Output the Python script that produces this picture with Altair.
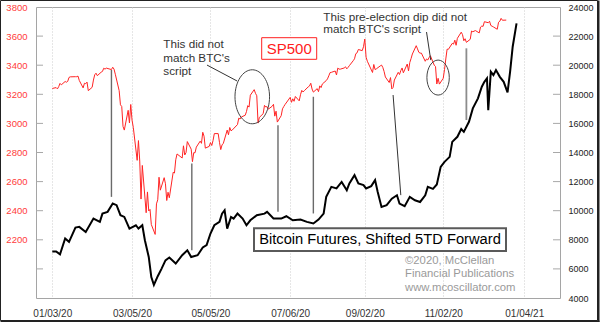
import altair as alt
import pandas as pd

# ---------------- data ----------------
sp_dates = [
    "2020-01-03","2020-01-06","2020-01-07","2020-01-08","2020-01-09","2020-01-10","2020-01-13","2020-01-14",
    "2020-01-15","2020-01-16","2020-01-17","2020-01-21","2020-01-22","2020-01-23","2020-01-24","2020-01-27",
    "2020-01-28","2020-01-29","2020-01-30","2020-01-31","2020-02-03","2020-02-04","2020-02-05","2020-02-06",
    "2020-02-07","2020-02-10","2020-02-11","2020-02-12","2020-02-13","2020-02-14","2020-02-18","2020-02-19",
    "2020-02-20","2020-02-21","2020-02-24","2020-02-25","2020-02-26","2020-02-27","2020-02-28","2020-03-02",
    "2020-03-03","2020-03-04","2020-03-05","2020-03-06","2020-03-09","2020-03-10","2020-03-11","2020-03-12",
    "2020-03-13","2020-03-16","2020-03-17","2020-03-18","2020-03-19","2020-03-20","2020-03-23","2020-03-24",
    "2020-03-25","2020-03-26","2020-03-27","2020-03-30","2020-03-31","2020-04-01","2020-04-02","2020-04-03",
    "2020-04-06","2020-04-07","2020-04-08","2020-04-09","2020-04-13","2020-04-14","2020-04-15","2020-04-16",
    "2020-04-17","2020-04-20","2020-04-21","2020-04-22","2020-04-23","2020-04-24","2020-04-27","2020-04-28",
    "2020-04-29","2020-04-30","2020-05-01","2020-05-04","2020-05-05","2020-05-06","2020-05-07","2020-05-08",
    "2020-05-11","2020-05-12","2020-05-13","2020-05-14","2020-05-15","2020-05-18","2020-05-19","2020-05-20",
    "2020-05-21","2020-05-22","2020-05-26","2020-05-27","2020-05-28","2020-05-29","2020-06-01","2020-06-02",
    "2020-06-03","2020-06-04","2020-06-05","2020-06-08","2020-06-09","2020-06-10","2020-06-11","2020-06-12",
    "2020-06-15","2020-06-16","2020-06-17","2020-06-18","2020-06-19","2020-06-22","2020-06-23","2020-06-24",
    "2020-06-25","2020-06-26","2020-06-29","2020-06-30","2020-07-01","2020-07-02","2020-07-06","2020-07-07",
    "2020-07-08","2020-07-09","2020-07-10","2020-07-13","2020-07-14","2020-07-15","2020-07-16","2020-07-17",
    "2020-07-20","2020-07-21","2020-07-22","2020-07-23","2020-07-24","2020-07-27","2020-07-28","2020-07-29",
    "2020-07-30","2020-07-31","2020-08-03","2020-08-04","2020-08-05","2020-08-06","2020-08-07","2020-08-10",
    "2020-08-11","2020-08-12","2020-08-13","2020-08-14","2020-08-17","2020-08-18","2020-08-19","2020-08-20",
    "2020-08-21","2020-08-24","2020-08-25","2020-08-26","2020-08-27","2020-08-28","2020-08-31","2020-09-01",
    "2020-09-02","2020-09-03","2020-09-04","2020-09-08","2020-09-09","2020-09-10","2020-09-11","2020-09-14",
    "2020-09-15","2020-09-16","2020-09-17","2020-09-18","2020-09-21","2020-09-22","2020-09-23","2020-09-24",
    "2020-09-25","2020-09-28","2020-09-29","2020-09-30","2020-10-01","2020-10-02","2020-10-05","2020-10-06",
    "2020-10-07","2020-10-08","2020-10-09","2020-10-12","2020-10-13","2020-10-14","2020-10-15","2020-10-16",
    "2020-10-19","2020-10-20","2020-10-21","2020-10-22","2020-10-23","2020-10-26","2020-10-27","2020-10-28",
    "2020-10-29","2020-10-30","2020-11-02","2020-11-03","2020-11-04","2020-11-05","2020-11-06","2020-11-09",
    "2020-11-10","2020-11-11","2020-11-12","2020-11-13","2020-11-16","2020-11-17","2020-11-18","2020-11-19",
    "2020-11-20","2020-11-23","2020-11-24","2020-11-25","2020-11-27","2020-11-30","2020-12-01","2020-12-02",
    "2020-12-03","2020-12-04","2020-12-07","2020-12-08","2020-12-09","2020-12-10","2020-12-11","2020-12-14",
    "2020-12-15","2020-12-16","2020-12-17","2020-12-18","2020-12-21",
]
sp_values = [
    3240,3246,3237,3253,3275,3265,3288,3283,
    3289,3316,3320,3321,3321,3325,3295,3244,
    3276,3273,3284,3225,3248,3298,3334,3345,
    3328,3352,3357,3379,3373,3380,3370,3386,
    3373,3338,3225,3128,3116,2979,2954,3090,
    3003,3130,3023,2972,2746,2882,2741,2480,
    2711,2386,2529,2398,2409,2305,2237,2447,
    2475,2630,2541,2627,2585,2470,2527,2489,
    2664,2659,2750,2790,2762,2846,2783,2800,
    2875,2823,2737,2799,2798,2837,2878,2863,
    2939,2912,2830,2842,2868,2848,2882,2930,
    2930,2870,2820,2852,2863,2954,2922,2972,
    2949,2955,2992,3036,3030,3044,3056,3081,
    3122,3112,3194,3232,3207,3190,3002,3041,
    3067,3124,3113,3115,3098,3118,3131,3050,
    3084,3009,3053,3100,3116,3130,3179,3145,
    3169,3152,3185,3155,3197,3227,3216,3225,
    3251,3257,3276,3236,3215,3239,3218,3258,
    3246,3271,3294,3306,3327,3349,3351,3360,
    3333,3380,3373,3373,3381,3389,3375,3385,
    3397,3431,3444,3479,3485,3508,3500,3527,
    3580,3455,3427,3350,3405,3370,3375,3395,
    3401,3385,3357,3319,3281,3315,3237,3247,
    3298,3351,3336,3363,3381,3348,3408,3361,
    3419,3446,3477,3534,3512,3489,3483,3483,
    3427,3443,3436,3453,3465,3400,3391,3271,
    3310,3270,3310,3370,3443,3510,3509,3550,
    3545,3572,3537,3585,3627,3610,3568,3582,
    3557,3578,3635,3630,3638,3622,3662,3669,
    3667,3699,3692,3702,3673,3668,3663,3647,
    3695,3702,3722,3709,3710,
]

btc_dates = [
    "2020-01-03","2020-01-06","2020-01-09","2020-01-13","2020-01-16","2020-01-21","2020-01-24","2020-01-29",
    "2020-02-04","2020-02-09","2020-02-11","2020-02-15","2020-02-19","2020-02-22","2020-02-25","2020-02-28",
    "2020-03-03","2020-03-08","2020-03-10","2020-03-13","2020-03-15","2020-03-18","2020-03-20","2020-03-22",
    "2020-03-25","2020-03-28","2020-03-31","2020-04-03","2020-04-08","2020-04-13","2020-04-17","2020-04-20",
    "2020-04-25","2020-04-29","2020-05-02","2020-05-05","2020-05-08","2020-05-12","2020-05-14","2020-05-16",
    "2020-05-18","2020-05-21","2020-05-23","2020-05-26","2020-05-30","2020-06-02","2020-06-05","2020-06-10",
    "2020-06-16","2020-06-18","2020-06-23","2020-06-29","2020-07-03","2020-07-08","2020-07-14","2020-07-19",
    "2020-07-24","2020-07-28","2020-08-01","2020-08-03","2020-08-07","2020-08-11","2020-08-15","2020-08-19",
    "2020-08-21","2020-08-25","2020-08-28","2020-09-01","2020-09-03","2020-09-07","2020-09-10","2020-09-12",
    "2020-09-15","2020-09-19","2020-09-23","2020-09-27","2020-09-29","2020-10-03","2020-10-07","2020-10-11",
    "2020-10-15","2020-10-19","2020-10-21","2020-10-25","2020-10-28","2020-10-31","2020-11-03","2020-11-07",
    "2020-11-09","2020-11-13","2020-11-16","2020-11-18","2020-11-22","2020-11-25","2020-11-29","2020-12-02",
    "2020-12-04","2020-12-06","2020-12-07","2020-12-09","2020-12-11","2020-12-13","2020-12-16","2020-12-19",
    "2020-12-22","2020-12-24","2020-12-26","2020-12-29",
]
btc_values = [
    7200,7200,7000,8090,7860,8840,8890,8540,
    9460,9230,9800,9920,10490,10380,9690,9570,
    8770,9000,8770,9000,7970,6820,5440,4900,
    5500,6020,6590,6780,6370,6940,7280,6820,
    6940,7470,7630,8430,9000,9230,9800,10030,
    8770,9570,9460,9800,9460,9000,9340,9690,
    9800,9920,9460,9460,9620,9340,9390,9230,
    9120,9390,9800,10950,11640,11530,11980,11410,
    11870,12440,11870,11760,11530,11690,12100,11300,
    10260,10380,10830,11060,10490,10310,10950,10720,
    10600,11060,11640,11500,11800,13010,13360,13700,
    14730,15080,15610,15420,16110,17030,17720,18520,
    18860,19100,16900,19550,19320,19670,19200,18860,
    18130,19550,21270,22880,
]

grid_dates = ["2020-01-03", "2020-03-05", "2020-05-05", "2020-07-06", "2020-09-02", "2020-11-02", "2021-01-04"]
left_labels = [2200, 2400, 2600, 2800, 3000, 3200, 3400, 3600, 3800]
left_ticks = [2000, 2200, 2400, 2600, 2800, 3000, 3200, 3400, 3600]
right_labels = [4000, 6000, 8000, 10000, 12000, 14000, 16000, 18000, 20000, 22000, 24000]
right_ticks = [6000, 8000, 10000, 12000, 14000, 16000, 18000, 20000, 22000]

# annotation connectors (in SP500 units)
link_dates = ["2020-02-18T00:00:00Z", "2020-04-20T12:00:00Z", "2020-06-26T12:00:00Z", "2020-07-24T00:00:00Z"]
link_tops = [3367, 2725, 2988, 3183]
link_bottoms = [2495, 2128, 2392, 2381]
slant_start_dates = ["2020-09-24T00:00:00Z", "2020-05-02T07:00:00Z", "2020-10-20T00:00:00Z"]
slant_end_dates = ["2020-09-30T00:00:00Z", "2020-05-25T19:00:00Z", "2020-10-23T07:00:00Z"]
slant_start_vals = [3195, 3401, 3628]
slant_end_vals = [2507, 3291, 3435]
light_link_dates = ["2020-11-20T00:00:00Z"]
light_link_tops = [3516]
light_link_bottoms = [3023]
circle_dates = ["2020-06-06T12:00:00Z", "2020-10-29T00:00:00Z"]
circle_vals = [3183, 3315]
circle_heights = [54, 35]

note1 = ["This did not", "match BTC's", "script"]
note2 = ["This pre-election dip did not", "match BTC's script"]
credit = ["\u00a92020, McClellan", "Financial Publications", "www.mcoscillator.com"]

# ---------------- scales / axes ----------------
FONT = "Liberation Sans"


def ms(s):
    return int(pd.Timestamp(s, tz="UTC").value // 10**6)


x_scale = alt.Scale(type="utc", domain=[ms("2019-12-21T08:00"), ms("2021-01-31T19:00")], nice=False)
x_axis = alt.Axis(values=[ms(d) for d in grid_dates],
                  labelExpr="utcFormat(datum.value, '%m/%d/%y')",
                  grid=True, gridColor="#cdcdcd", gridDash=[1, 2], gridWidth=1,
                  ticks=False, tickSize=0, domain=False, labelFontSize=10, labelColor="#333333",
                  labelPadding=10, labelFont=FONT, labelOverlap=False, labelFlush=False, title=None)

sp_scale = alt.Scale(domain=[1800, 3800], nice=False, zero=False)
sp_axis = alt.Axis(orient="left", values=left_labels, format="d", labelColor="#ff3b3b", labelFontSize=9.5,
                   labelFont=FONT, labelPadding=9, ticks=False, tickSize=0, domain=False,
                   grid=False, title=None)
btc_scale = alt.Scale(domain=[4000, 24000], nice=False, zero=False)
btc_axis = alt.Axis(orient="right", values=right_labels, format="d", labelColor="#222222", labelFontSize=9,
                    labelFont=FONT, labelPadding=8, ticks=False, tickSize=0, domain=False,
                    grid=False, title=None)

one = pd.DataFrame({"k": [0]})

# ---------------- SP500 side ----------------
sp_df = pd.DataFrame({"date": sp_dates, "sp": sp_values})
sp_line = alt.Chart(sp_df).mark_line(color="#ff2424", strokeWidth=1).encode(
    x=alt.X("date:T", scale=x_scale, axis=x_axis),
    y=alt.Y("sp:Q", scale=sp_scale, axis=sp_axis),
)

lt_df = pd.DataFrame({"v": left_ticks})
left_tick_rules = alt.Chart(lt_df).mark_rule(color="#a8a8a8", strokeWidth=1).encode(
    y=alt.Y("v:Q", scale=sp_scale, axis=sp_axis), x=alt.value(0), x2=alt.value(7))

links_df = pd.DataFrame({"d": link_dates, "top": link_tops, "bot": link_bottoms})
links = alt.Chart(links_df).mark_rule(color="#6a6a6a", strokeWidth=1.4).encode(
    x=alt.X("d:T", scale=x_scale, axis=x_axis),
    y=alt.Y("top:Q", scale=sp_scale, axis=sp_axis), y2="bot:Q")

slant_df = pd.DataFrame({"d1": slant_start_dates, "d2": slant_end_dates,
                         "v1": slant_start_vals, "v2": slant_end_vals})
slants = alt.Chart(slant_df).mark_rule(color="#333333", strokeWidth=1).encode(
    x=alt.X("d1:T", scale=x_scale, axis=x_axis), x2="d2:T",
    y=alt.Y("v1:Q", scale=sp_scale, axis=sp_axis), y2="v2:Q")

light_df = pd.DataFrame({"d": light_link_dates, "top": light_link_tops, "bot": light_link_bottoms})
light_links = alt.Chart(light_df).mark_rule(color="#8c8c8c", strokeWidth=1.8).encode(
    x=alt.X("d:T", scale=x_scale, axis=x_axis),
    y=alt.Y("top:Q", scale=sp_scale, axis=sp_axis), y2="bot:Q")

ell_path = ("M0,-1 C0.3535,-1 0.64,-0.5523 0.64,0 C0.64,0.5523 0.3535,1 0,1 "
            "C-0.3535,1 -0.64,0.5523 -0.64,0 C-0.64,-0.5523 -0.3535,-1 0,-1 Z")
circ_df = pd.DataFrame({"d": circle_dates, "v": circle_vals, "h": circle_heights})
circles = alt.Chart(circ_df).transform_calculate(s="datum.h * datum.h").mark_point(
    shape=ell_path, filled=False, color="#444444", strokeWidth=1, opacity=1).encode(
    x=alt.X("d:T", scale=x_scale, axis=x_axis),
    y=alt.Y("v:Q", scale=sp_scale, axis=sp_axis),
    size=alt.Size("s:Q", scale=None))

sp_layer = alt.layer(left_tick_rules, sp_line, links, slants, light_links, circles)

# ---------------- Bitcoin side ----------------
btc_df = pd.DataFrame({"date": btc_dates, "btc": btc_values})
btc_line = alt.Chart(btc_df).mark_line(color="#000000", strokeWidth=2).encode(
    x=alt.X("date:T", scale=x_scale, axis=x_axis),
    y=alt.Y("btc:Q", scale=btc_scale, axis=btc_axis),
)
rt_df = pd.DataFrame({"v": right_ticks})
right_tick_rules = alt.Chart(rt_df).mark_rule(color="#a8a8a8", strokeWidth=1).encode(
    y=alt.Y("v:Q", scale=btc_scale, axis=btc_axis), x=alt.value(517), x2=alt.value(524))
btc_layer = alt.layer(right_tick_rules, btc_line)

# ---------------- labels / boxes ----------------
sp_box = alt.Chart(one).mark_rect(fill="white", stroke="#ff2020", strokeWidth=1).encode(
    x=alt.value(225.7), x2=alt.value(280.7), y=alt.value(30.7), y2=alt.value(52.3))
sp_text = alt.Chart(one).mark_text(text="SP500", font=FONT, fontSize=15, color="#ff2020",
                                   align="center", baseline="middle").encode(
    x=alt.value(253.2), y=alt.value(41.8))
btc_box = alt.Chart(one).mark_rect(fill="white", stroke="#5a5a5a", strokeWidth=2).encode(
    x=alt.value(218), x2=alt.value(470), y=alt.value(221.3), y2=alt.value(244))
btc_text = alt.Chart(one).mark_text(text="Bitcoin Futures, Shifted 5TD Forward", font=FONT,
                                    fontSize=14.7, color="#000000", align="center",
                                    baseline="middle").encode(
    x=alt.value(344), y=alt.value(233))
t1 = alt.Chart(one).mark_text(text=note1, font=FONT, fontSize=11.7, color="#333333", align="left",
                              baseline="alphabetic", lineHeight=13.3).encode(
    x=alt.value(127.3), y=alt.value(41.3))
t2 = alt.Chart(one).mark_text(text=note2, font=FONT, fontSize=11.7, color="#333333", align="left",
                              baseline="alphabetic", lineHeight=12.7).encode(
    x=alt.value(287.3), y=alt.value(13.7))
t3 = alt.Chart(one).mark_text(text=credit, font=FONT, fontSize=11.3, color="#9a9a9a", align="left",
                              baseline="alphabetic", lineHeight=13.4).encode(
    x=alt.value(369), y=alt.value(257))

frame = alt.Chart(one).mark_rect(fillOpacity=0, stroke="#222222", strokeWidth=1).encode(
    x=alt.value(-35.5), x2=alt.value(561.5), y=alt.value(-6.5), y2=alt.value(313.5))
frame_r = alt.Chart(one).mark_rule(color="#222222", strokeWidth=2).encode(
    x=alt.value(562.5), y=alt.value(-6.5), y2=alt.value(315))
frame_b = alt.Chart(one).mark_rule(color="#222222", strokeWidth=2).encode(
    y=alt.value(314.5), x=alt.value(-35.5), x2=alt.value(563.5))

chart = alt.layer(
    sp_layer, btc_layer, sp_box, sp_text, btc_box, btc_text, t1, t2, t3, frame, frame_r, frame_b
).resolve_scale(y="independent").properties(
    width=524, height=291, autosize="none",
    padding={"left": 36, "top": 7, "right": 40, "bottom": 24},
    background="white",
).configure_view(stroke="#a5a5a5", strokeWidth=1)

chart.save("out.html", embed_options={"renderer": "svg", "actions": False})
